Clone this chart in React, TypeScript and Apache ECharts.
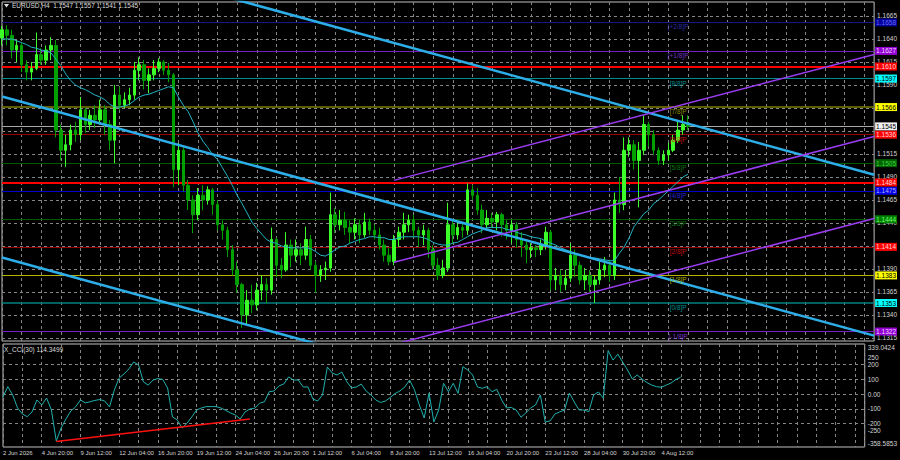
import React, { useEffect, useRef } from 'react';
import * as echarts from 'echarts';

// ---------- data ----------
const timeLabels = [
  '2 Jun 2026', '4 Jun 20:00', '9 Jun 12:00', '12 Jun 04:00', '16 Jun 20:00', '19 Jun 12:00',
  '24 Jun 04:00', '26 Jun 20:00', '1 Jul 12:00', '6 Jul 04:00', '8 Jul 20:00', '13 Jul 12:00',
  '16 Jul 04:00', '20 Jul 20:00', '23 Jul 12:00', '28 Jul 04:00', '30 Jul 20:00', '4 Aug 12:00',
];
const LABEL_EVERY = 8;
const CATEGORY_COUNT = 179;

// [open, close, low, high]
const candles = [
  [1.1641, 1.1650, 1.1633, 1.1654], [1.1650, 1.1644, 1.1633, 1.1655], [1.1644, 1.1628, 1.1619, 1.1650],
  [1.1628, 1.1633, 1.1615, 1.1639], [1.1633, 1.1612, 1.1604, 1.1636], [1.1612, 1.1604, 1.1595, 1.1617],
  [1.1604, 1.1608, 1.1595, 1.1615], [1.1608, 1.1623, 1.1606, 1.1647], [1.1623, 1.1617, 1.1612, 1.1630],
  [1.1617, 1.1628, 1.1612, 1.1633], [1.1628, 1.1633, 1.1617, 1.1642], [1.1633, 1.1541, 1.1533, 1.1639],
  [1.1541, 1.1519, 1.1508, 1.1547], [1.1519, 1.1525, 1.1501, 1.1536], [1.1525, 1.1541, 1.1519, 1.1547],
  [1.1541, 1.1536, 1.1528, 1.1550], [1.1536, 1.1563, 1.1530, 1.1577], [1.1563, 1.1547, 1.1538, 1.1565],
  [1.1547, 1.1557, 1.1541, 1.1563], [1.1557, 1.1552, 1.1543, 1.1568], [1.1552, 1.1563, 1.1547, 1.1574],
  [1.1563, 1.1547, 1.1536, 1.1568], [1.1547, 1.1530, 1.1519, 1.1552], [1.1530, 1.1579, 1.1505, 1.1590],
  [1.1579, 1.1568, 1.1563, 1.1588], [1.1568, 1.1574, 1.1565, 1.1582], [1.1574, 1.1579, 1.1568, 1.1587],
  [1.1579, 1.1606, 1.1574, 1.1615], [1.1606, 1.1612, 1.1595, 1.1620], [1.1612, 1.1595, 1.1585, 1.1617],
  [1.1595, 1.1601, 1.1581, 1.1608], [1.1601, 1.1608, 1.1595, 1.1617], [1.1608, 1.1615, 1.1604, 1.1619],
  [1.1615, 1.1606, 1.1601, 1.1617], [1.1606, 1.1601, 1.1593, 1.1614], [1.1601, 1.1498, 1.1479, 1.1603],
  [1.1498, 1.1519, 1.1481, 1.1527], [1.1519, 1.1481, 1.1474, 1.1522], [1.1481, 1.1465, 1.1454, 1.1487],
  [1.1465, 1.1449, 1.1429, 1.1470], [1.1449, 1.1470, 1.1443, 1.1478], [1.1470, 1.1465, 1.1454, 1.1481],
  [1.1465, 1.1476, 1.1460, 1.1480], [1.1476, 1.1460, 1.1449, 1.1478], [1.1460, 1.1438, 1.1432, 1.1465],
  [1.1438, 1.1432, 1.1422, 1.1443], [1.1432, 1.1411, 1.1403, 1.1436], [1.1411, 1.1389, 1.1383, 1.1416],
  [1.1389, 1.1373, 1.1364, 1.1398], [1.1373, 1.1340, 1.1326, 1.1375], [1.1340, 1.1356, 1.1329, 1.1367],
  [1.1356, 1.1351, 1.1342, 1.1373], [1.1351, 1.1367, 1.1345, 1.1375], [1.1367, 1.1373, 1.1356, 1.1383],
  [1.1373, 1.1367, 1.1353, 1.1380], [1.1367, 1.1422, 1.1362, 1.1435], [1.1422, 1.1394, 1.1381, 1.1424],
  [1.1394, 1.1389, 1.1380, 1.1402], [1.1389, 1.1416, 1.1387, 1.1430], [1.1416, 1.1405, 1.1392, 1.1422],
  [1.1405, 1.1411, 1.1398, 1.1422], [1.1411, 1.1405, 1.1394, 1.1418], [1.1405, 1.1422, 1.1400, 1.1436],
  [1.1422, 1.1394, 1.1389, 1.1427], [1.1394, 1.1383, 1.1364, 1.1398], [1.1383, 1.1389, 1.1376, 1.1394],
  [1.1389, 1.1391, 1.1378, 1.1398], [1.1391, 1.1449, 1.1387, 1.1473], [1.1449, 1.1438, 1.1429, 1.1456],
  [1.1438, 1.1443, 1.1432, 1.1454], [1.1443, 1.1435, 1.1427, 1.1452], [1.1435, 1.1430, 1.1418, 1.1443],
  [1.1430, 1.1438, 1.1422, 1.1445], [1.1438, 1.1427, 1.1418, 1.1443], [1.1427, 1.1441, 1.1424, 1.1451],
  [1.1441, 1.1432, 1.1427, 1.1445], [1.1432, 1.1427, 1.1422, 1.1438], [1.1427, 1.1416, 1.1411, 1.1435],
  [1.1416, 1.1405, 1.1398, 1.1422], [1.1405, 1.1398, 1.1394, 1.1413], [1.1398, 1.1422, 1.1394, 1.1427],
  [1.1422, 1.1430, 1.1414, 1.1436], [1.1430, 1.1438, 1.1422, 1.1451], [1.1438, 1.1443, 1.1430, 1.1449],
  [1.1443, 1.1432, 1.1425, 1.1449], [1.1432, 1.1427, 1.1414, 1.1436], [1.1427, 1.1432, 1.1416, 1.1438],
  [1.1432, 1.1411, 1.1402, 1.1435], [1.1411, 1.1394, 1.1389, 1.1416], [1.1394, 1.1383, 1.1378, 1.1402],
  [1.1383, 1.1391, 1.1380, 1.1400], [1.1391, 1.1438, 1.1387, 1.1462], [1.1438, 1.1427, 1.1418, 1.1443],
  [1.1427, 1.1435, 1.1422, 1.1441], [1.1435, 1.1432, 1.1424, 1.1441], [1.1432, 1.1476, 1.1427, 1.1483],
  [1.1476, 1.1470, 1.1465, 1.1481], [1.1470, 1.1454, 1.1449, 1.1478], [1.1454, 1.1438, 1.1429, 1.1460],
  [1.1438, 1.1445, 1.1432, 1.1454], [1.1445, 1.1441, 1.1435, 1.1451], [1.1441, 1.1449, 1.1432, 1.1452],
  [1.1449, 1.1438, 1.1425, 1.1451], [1.1438, 1.1432, 1.1422, 1.1443], [1.1432, 1.1438, 1.1418, 1.1443],
  [1.1438, 1.1422, 1.1413, 1.1441], [1.1422, 1.1416, 1.1403, 1.1430], [1.1416, 1.1411, 1.1396, 1.1422],
  [1.1411, 1.1413, 1.1402, 1.1418], [1.1413, 1.1411, 1.1403, 1.1416], [1.1411, 1.1416, 1.1405, 1.1422],
  [1.1416, 1.1430, 1.1411, 1.1436], [1.1430, 1.1378, 1.1367, 1.1432], [1.1378, 1.1383, 1.1367, 1.1391],
  [1.1383, 1.1373, 1.1365, 1.1389], [1.1373, 1.1380, 1.1367, 1.1389], [1.1380, 1.1405, 1.1376, 1.1418],
  [1.1405, 1.1394, 1.1381, 1.1411], [1.1394, 1.1378, 1.1373, 1.1398], [1.1378, 1.1383, 1.1367, 1.1391],
  [1.1383, 1.1373, 1.1365, 1.1389], [1.1373, 1.1378, 1.1353, 1.1383], [1.1378, 1.1389, 1.1373, 1.1398],
  [1.1389, 1.1394, 1.1381, 1.1403], [1.1394, 1.1383, 1.1376, 1.1400], [1.1383, 1.1465, 1.1378, 1.1473],
  [1.1465, 1.1460, 1.1451, 1.1490], [1.1460, 1.1519, 1.1454, 1.1533], [1.1519, 1.1525, 1.1512, 1.1533],
  [1.1525, 1.1508, 1.1498, 1.1530], [1.1508, 1.1519, 1.1457, 1.1528], [1.1519, 1.1547, 1.1514, 1.1557],
  [1.1547, 1.1536, 1.1523, 1.1550], [1.1536, 1.1519, 1.1514, 1.1541], [1.1519, 1.1508, 1.1503, 1.1522],
  [1.1508, 1.1514, 1.1503, 1.1519], [1.1514, 1.1519, 1.1508, 1.1527], [1.1519, 1.1530, 1.1517, 1.1536],
  [1.1530, 1.1541, 1.1527, 1.1552], [1.1541, 1.1547, 1.1536, 1.1557], [1.1547, 1.1545, 1.1541, 1.1557],
];

const maValues = [
  1.1640, 1.1640, 1.1640, 1.1638, 1.1636, 1.1634, 1.1631, 1.1630, 1.1628, 1.1627,
  1.1625, 1.1618, 1.1611, 1.1602, 1.1595, 1.1590, 1.1587, 1.1585, 1.1582, 1.1579,
  1.1577, 1.1574, 1.1569, 1.1566, 1.1566, 1.1567, 1.1569, 1.1573, 1.1577, 1.1579,
  1.1580, 1.1582, 1.1584, 1.1586, 1.1588, 1.1587, 1.1577, 1.1568, 1.1561, 1.1550,
  1.1538, 1.1529, 1.1522, 1.1514, 1.1509, 1.1500, 1.1491, 1.1481, 1.1470, 1.1461,
  1.1451, 1.1441, 1.1434, 1.1428, 1.1422, 1.1419, 1.1418, 1.1415, 1.1414, 1.1413,
  1.1413, 1.1413, 1.1413, 1.1412, 1.1409, 1.1405, 1.1404, 1.1407, 1.1411, 1.1414,
  1.1415, 1.1418, 1.1420, 1.1422, 1.1423, 1.1425, 1.1425, 1.1424, 1.1424, 1.1422,
  1.1422, 1.1424, 1.1425, 1.1425, 1.1425, 1.1425, 1.1424, 1.1422, 1.1419, 1.1417,
  1.1416, 1.1416, 1.1418, 1.1419, 1.1422, 1.1425, 1.1428, 1.1430, 1.1432, 1.1435,
  1.1435, 1.1435, 1.1435, 1.1433, 1.1432, 1.1430, 1.1428, 1.1427, 1.1425, 1.1424,
  1.1423, 1.1420, 1.1418, 1.1416, 1.1413, 1.1411, 1.1409, 1.1406, 1.1405, 1.1404,
  1.1402, 1.1402, 1.1401, 1.1400, 1.1399, 1.1399, 1.1407, 1.1414, 1.1424, 1.1436,
  1.1443, 1.1450, 1.1454, 1.1461, 1.1465, 1.1470, 1.1475, 1.1480, 1.1485, 1.1490,
  1.1493,
];

const cciValues = [
  -18, 50, -6, -94, -135, -153, -121, -40, -74, -27,
  -108, -318, -230, -169, -115, -87, -40, -60, -52, -43,
  -37, -47, -87, 28, 109, 136, 170, 217, 197, 82,
  61, 95, 105, 99, 41, -155, -175, -230, -198, -155,
  -108, -94, -85, -85, -85, -94, -111, -128, -142, -169,
  -121, -101, -96, -62, -52, 16, 21, 55, 68, 116,
  95, 95, 48, 48, -33, -47, -6, 183, 143, 129,
  149, 84, 41, 48, 68, 21, -6, -40, -57, -47,
  -23, 4, 21, 48, 95, 28, -74, -162, 7, -189,
  -108, 73, 16, 73, 5, 185, 163, 129, 48, 39,
  50, 16, 32, -40, -94, -91, -108, -157, -128, -94,
  -74, -6, -189, -182, -135, -121, -108, 7, -54, -108,
  -108, -119, -6, 14, -27, 295, 230, 270, 217, 163,
  102, 129, 102, 78, 61, 50, 46, 61, 75, 99,
  114.35,
];

const PRICE_MIN = 1.13117;
const PRICE_MAX = 1.16802;
// grid lines at every price step; labels only where the reference leaves them uncovered
const priceGridTicks = [1.1315, 1.1340, 1.1365, 1.1390, 1.1415, 1.1440, 1.1465, 1.1490, 1.1515, 1.1540, 1.1565, 1.1590, 1.1615, 1.1640, 1.1665];
const priceLabelTicks = [1.1315, 1.1340, 1.1365, 1.1390, 1.1440, 1.1465, 1.1490, 1.1515, 1.1590, 1.1615, 1.1640, 1.1665];

const CCI_MIN = -358.5853;
const CCI_MAX = 339.0424;
const cciTicks = [-358.5853, -250, -200, -100, 0, 100, 200, 250, 339.0424];
const cciTickLabels = ['-358.5853', '-250', '-200', '-100', '0.00', '100', '200', '250', '339.0424'];
const cciGridValues = [-200, -100, 0, 100, 200];

const murrayNames = ['[+2/8]P', '[+1/8]P', '[8/8]P', '[7/8]P', '[6/8]P', '[5/8]P', '[4/8]P', '[3/8]P', '[2/8]P', '[1/8]P', '[0/8]P', '[-1/8]P'];
const murrayLevels = [1.1658, 1.1627, 1.1597, 1.1566, 1.1536, 1.1505, 1.1475, 1.1444, 1.1414, 1.1383, 1.1353, 1.1322];
const MURRAY_TAG_INDEX = 138;
const redLevels = [1.1610, 1.1484];
const lastPrice = 1.1545;

// trend channels: [[categoryIndex, price], [categoryIndex, price]]
const cyanChannel = [
  [[0, 1.17525], [178, 1.14925]],
  [[0, 1.15774], [178, 1.13175]],
  [[0, 1.14024], [178, 1.11425]],
];
const purpleChannel = [
  [[80, 1.14863], [178, 1.16232]],
  [[80, 1.13972], [178, 1.15340]],
  [[80, 1.13080], [178, 1.14449]],
];
const cciTrend = [[11, -322], [51, -169]];

const titleText = 'EURUSD,H4  1.1547 1.1557 1.1541 1.1545';
const cciTitle = 'X_CCI(30) 114.3499';

// ---------- styles ----------
const FONT = '"Liberation Sans", Arial, sans-serif';
const GRID_COLOR = '#858585';
const murrayLineColors = ['#15158c', '#7420c0', '#008c8c', '#7c7c00', '#980000', '#005a00', '#0000cc', '#005a00', '#980000', '#b4b400', '#008080', '#7420c0'];
const murrayTagColors = ['#3a3ad0', '#9a40f0', '#00b4b4', '#b4b400', '#f01010', '#109a10', '#3030ff', '#109a10', '#f01010', '#d8d800', '#00b4b4', '#9a40f0'];
const murrayBoxBg = ['#00009a', '#9400d3', '#00ffff', '#ffff00', '#ff0000', '#006400', '#0000e6', '#008000', '#ff0000', '#ffff00', '#00ffff', '#9400d3'];
const murrayBoxText = ['#6a6aff', '#f0d8ff', '#000000', '#000000', '#ffd8d8', '#40d040', '#b0b0ff', '#70ff70', '#ffd8d8', '#000000', '#000000', '#f0d8ff'];
const murrayWidths = [1, 1, 1, 1.5, 1, 1, 1, 1, 1, 1, 1.5, 1];

export default function App() {
  const ref = useRef<HTMLDivElement>(null);

  useEffect(() => {
    document.body.style.margin = '0';
    document.body.style.background = '#000';
    if (!ref.current) return;
    const chart = echarts.init(ref.current, undefined, { renderer: 'svg' });

    const cats = Array.from({ length: CATEGORY_COUNT }, (_, i) => String(i));

    const levelLabel = (text: string, bg: string, fg: string) => ({
      show: true,
      position: 'end',
      distance: 1,
      formatter: text,
      backgroundColor: bg,
      color: fg,
      padding: [0, 1, 0, 1],
      lineHeight: 8,
      fontSize: 6.5,
      fontFamily: FONT,
    });

    const levelMarks: any[] = murrayLevels.map((v, i) => ({
      yAxis: v,
      lineStyle: { color: murrayLineColors[i], width: murrayWidths[i], type: 'solid' },
      label: levelLabel(v.toFixed(4), murrayBoxBg[i], murrayBoxText[i]),
    }));
    redLevels.forEach((v) => {
      levelMarks.push({
        yAxis: v,
        lineStyle: { color: '#ff0000', width: 2, type: 'solid' },
        label: levelLabel(v.toFixed(4), '#ff0000', '#ffd8d8'),
      });
    });
    levelMarks.push({
      yAxis: lastPrice,
      lineStyle: { color: '#a8a8a8', width: 1, type: 'solid' },
      label: levelLabel(lastPrice.toFixed(4), '#f0f0f0', '#000000'),
    });

    const trendSeries = (pts: number[][], color: string, width: number, xi: number, yi: number, z: number) => ({
      type: 'line',
      xAxisIndex: xi,
      yAxisIndex: yi,
      data: pts,
      symbol: 'none',
      silent: true,
      clip: true,
      z,
      lineStyle: { color, width },
    });

    const splitX = {
      show: true,
      interval: 3,
      lineStyle: { color: GRID_COLOR, type: [3, 3], width: 1 },
    };

    const option: any = {
      animation: false,
      backgroundColor: '#000000',
      textStyle: { fontFamily: FONT },
      grid: [
        { left: 2, top: 2, width: 873, height: 339, show: true, borderColor: '#c0c0c0', borderWidth: 1, backgroundColor: 'transparent' },
        { left: 2, top: 344, width: 873, height: 103, show: true, borderColor: '#c0c0c0', borderWidth: 1, backgroundColor: 'transparent' },
      ],
      xAxis: [
        {
          type: 'category', gridIndex: 0, data: cats, boundaryGap: false,
          axisLine: { show: false }, axisTick: { show: false }, axisLabel: { show: false },
          splitLine: splitX,
        },
        {
          type: 'category', gridIndex: 1, data: cats, boundaryGap: false,
          axisLine: { show: false }, axisTick: { show: false },
          axisLabel: {
            show: true, interval: 0, align: 'left', margin: 3, fontSize: 6, color: '#d4d4d4', fontFamily: FONT,
            formatter: (_v: string, idx: number) => (idx % LABEL_EVERY === 0 ? timeLabels[idx / LABEL_EVERY] ?? '' : ''),
          },
          splitLine: splitX,
        },
      ],
      yAxis: [
        {
          type: 'value', gridIndex: 0, position: 'right', min: PRICE_MIN, max: PRICE_MAX, scale: true,
          splitLine: { show: false }, axisLine: { show: false }, axisTick: { show: false },
          axisLabel: {
            show: true, customValues: priceLabelTicks, margin: 3, fontSize: 6.5, color: '#d4d4d4', fontFamily: FONT,
            formatter: (v: number) => v.toFixed(4),
          },
        },
        {
          type: 'value', gridIndex: 1, position: 'right', min: CCI_MIN, max: CCI_MAX,
          splitLine: { show: false }, axisLine: { show: false }, axisTick: { show: false },
          axisLabel: {
            show: true, customValues: cciTicks, margin: 3, fontSize: 6.5, color: '#d4d4d4', fontFamily: FONT,
            verticalAlignMinLabel: 'bottom', verticalAlignMaxLabel: 'top',
            formatter: (v: number) => {
              const k = cciTicks.findIndex((t) => Math.abs(t - v) < 1e-6);
              return k >= 0 ? cciTickLabels[k] : String(v);
            },
          },
        },
      ],
      graphic: [
        { type: 'polygon', shape: { points: [[4, 4], [9, 4], [6.5, 7.5]] }, style: { fill: '#e0e0e0' }, z: 100 },
        { type: 'text', left: 12, top: 2, z: 100, style: { text: titleText, fill: '#dcdcdc', font: `6.5px ${FONT}` } },
        { type: 'text', left: 4, top: 346, z: 100, style: { text: cciTitle, fill: '#dcdcdc', font: `6.5px ${FONT}` } },
      ],
      series: [
        {
          name: 'gridH', type: 'line', xAxisIndex: 0, yAxisIndex: 0, data: [], z: 1, silent: true,
          markLine: {
            silent: true, precision: 6, symbol: ['none', 'none'], label: { show: false },
            lineStyle: { color: GRID_COLOR, type: [3, 3], width: 1 },
            data: priceGridTicks.map((v) => ({ yAxis: v })),
          },
        },
        {
          name: 'gridHcci', type: 'line', xAxisIndex: 1, yAxisIndex: 1, data: [], z: 1, silent: true,
          markLine: {
            silent: true, precision: 6, symbol: ['none', 'none'], label: { show: false },
            lineStyle: { color: GRID_COLOR, type: [3, 3], width: 1 },
            data: cciGridValues.map((v) => ({ yAxis: v })),
          },
        },
        {
          name: 'levels', type: 'line', xAxisIndex: 0, yAxisIndex: 0, data: [], z: 3, silent: true,
          markLine: { silent: true, precision: 6, symbol: ['none', 'none'], data: levelMarks },
        },
        {
          name: 'EURUSD', type: 'candlestick', xAxisIndex: 0, yAxisIndex: 0, data: candles, barWidth: 3, z: 5,
          itemStyle: { color: '#3cff2a', color0: '#00a000', borderColor: '#3cff2a', borderColor0: '#00a000', borderWidth: 1 },
        },
        {
          name: 'MA', type: 'line', xAxisIndex: 0, yAxisIndex: 0, data: maValues, symbol: 'none', z: 6, silent: true,
          lineStyle: { color: '#22b4c4', width: 1 },
        },
        ...cyanChannel.map((pts) => trendSeries(pts, '#2eaee8', 2.5, 0, 0, 7)),
        ...purpleChannel.map((pts) => trendSeries(pts, '#9a3cf0', 1.5, 0, 0, 7)),
        {
          name: 'murrayTags', type: 'scatter', xAxisIndex: 0, yAxisIndex: 0, symbolSize: 0, z: 8, silent: true,
          data: murrayLevels.map((v, i) => ({ value: [MURRAY_TAG_INDEX, v], label: { color: murrayTagColors[i] } })),
          label: {
            show: true, position: 'bottom', distance: 1, fontSize: 6.5, fontFamily: FONT,
            formatter: (p: any) => murrayNames[p.dataIndex],
          },
        },
        {
          name: 'CCI', type: 'line', xAxisIndex: 1, yAxisIndex: 1, data: cciValues, symbol: 'none', z: 5, silent: true,
          lineStyle: { color: '#20b0ae', width: 1 },
        },
        trendSeries(cciTrend, '#ff1010', 1.5, 1, 1, 6),
      ],
    };

    chart.setOption(option);
    return () => chart.dispose();
  }, []);

  return <div ref={ref} style={{ width: 900, height: 460, background: '#000' }} />;
}
